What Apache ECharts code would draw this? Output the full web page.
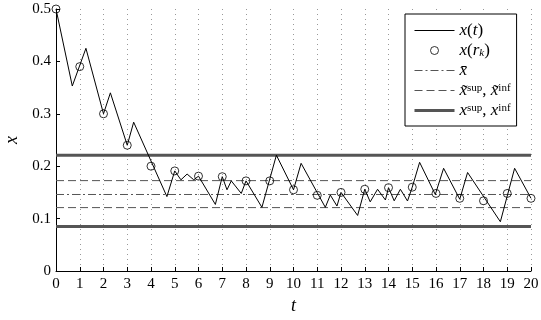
<!DOCTYPE html>
<html><head><meta charset="utf-8">
<script src="https://cdn.jsdelivr.net/npm/echarts@6/dist/echarts.min.js"></script>
<style>html,body{margin:0;padding:0;background:#fff}#c{width:541px;height:320px}</style>
</head><body><div id="c"></div>
<script>
// trajectory x(t) vertices
const tLine = [0, 0.686, 1.26, 2, 2.29, 3, 3.27, 4.67, 5, 5.26, 5.52, 5.8, 6, 6.71, 7, 7.2, 7.38, 7.8, 8, 8.67, 9.28, 10, 10.32, 11.34, 11.55, 11.83, 12, 12.7, 13, 13.23, 13.54, 13.87, 14, 14.24, 14.5, 14.8, 15, 15.31, 15.97, 16.32, 17, 17.33, 18.71, 19.31, 20];
const xLine = [0.5, 0.353, 0.425, 0.3, 0.34, 0.24, 0.284, 0.142, 0.191, 0.174, 0.185, 0.174, 0.181, 0.127, 0.180, 0.155, 0.172, 0.148, 0.172, 0.1215, 0.221, 0.155, 0.2055, 0.1215, 0.145, 0.124, 0.150, 0.106, 0.156, 0.132, 0.156, 0.1355, 0.159, 0.134, 0.156, 0.1336, 0.16, 0.2074, 0.146, 0.196, 0.137, 0.188, 0.094, 0.196, 0.1387];
// samples x(r_k)
const tSample = [0, 1, 2, 3, 4, 5, 6, 7, 8, 9, 10, 11, 12, 13, 14, 15, 16, 17, 18, 19, 20];
const xSample = [0.5, 0.39, 0.30, 0.24, 0.20, 0.191, 0.181, 0.180, 0.172, 0.172, 0.155, 0.1445, 0.150, 0.156, 0.159, 0.16, 0.148, 0.1387, 0.134, 0.148, 0.1387];
// reference levels
const xSupInf = [0.221, 0.085];
const xTildeSupInf = [0.1725, 0.121];
const xBar = [0.146];
const tSpan = [0, 20];

const serif = 'Liberation Serif';
const hline = (v) => tSpan.map(t => [t, v]);
const styles = {
  xsup:{color:'#555', width:3, type:'solid'},
  xtilde:{color:'#555', width:1, type:[8,4]},
  xbar:{color:'#555', width:1, type:[8,3,2,3]},
  xt:{color:'#000', width:1, type:'solid'}
};
const series = [];
xSupInf.forEach(v => series.push({name:'xsup', type:'line', data:hline(v), symbol:'none', lineStyle:styles.xsup, itemStyle:{color:'#555'}, z:1}));
xTildeSupInf.forEach(v => series.push({name:'xtilde', type:'line', data:hline(v), symbol:'none', lineStyle:styles.xtilde, itemStyle:{color:'#555'}, z:1}));
xBar.forEach(v => series.push({name:'xbar', type:'line', data:hline(v), symbol:'none', lineStyle:styles.xbar, itemStyle:{color:'#555'}, z:1}));
series.push({name:'xt', type:'line', data:tLine.map((t,i)=>[t,xLine[i]]), symbol:'none', lineStyle:styles.xt, itemStyle:{color:'#000'}, z:2});
series.push({name:'xr', type:'scatter', data:tSample.map((t,i)=>[t,xSample[i]]), symbol:'circle', symbolSize:8, itemStyle:{color:'rgba(0,0,0,0)', borderColor:'#000', borderWidth:1}, z:3});

const labels = {
  xt: '{i|x}{n|(}{i|t}{n|)}',
  xr: '{i|x}{n|(}{i|r}{sub|k}{n|)}',
  xbar: '{i|x\u0304}',
  xtilde: '{i|x\u0303}{sup|sup}{n|, }{i|x\u0303}{sup|inf}',
  xsup: '{i|x}{sup|sup}{n|, }{i|x}{sup|inf}'
};
const hideSym = {opacity:0};

const chart = echarts.init(document.getElementById('c'), null, {renderer:'canvas'});
chart.setOption({
  animation:false,
  backgroundColor:'#fff',
  grid:{left:56, right:10, top:9, bottom:49, containLabel:false, outerBoundsMode:'none'},
  xAxis:{type:'value', min:0, max:20, interval:1,
    name:'t', nameLocation:'middle', nameGap:26,
    nameTextStyle:{fontFamily:serif, fontStyle:'italic', fontSize:18, color:'#000'},
    axisLine:{show:true, onZero:false, lineStyle:{color:'#000', width:1}},
    axisTick:{show:true, inside:true, length:4, lineStyle:{color:'#000'}},
    axisLabel:{fontFamily:serif, fontSize:15, color:'#000', margin:6},
    splitLine:{show:true, lineStyle:{color:'#999', width:1, type:[1,4]}}},
  yAxis:{type:'value', min:0, max:0.5, interval:0.1,
    name:'x', nameLocation:'middle', nameGap:34,
    nameTextStyle:{fontFamily:serif, fontStyle:'italic', fontSize:18, color:'#000'},
    axisLine:{show:true, onZero:false, lineStyle:{color:'#000', width:1}},
    axisTick:{show:true, inside:true, length:4, lineStyle:{color:'#000'}},
    axisLabel:{fontFamily:serif, fontSize:15, color:'#000', margin:5},
    splitLine:{show:false}},
  legend:{left:405, top:14, orient:'vertical', itemWidth:40, itemHeight:8, itemGap:3,
    padding:[8,6,7,8], borderColor:'#000', borderWidth:1, backgroundColor:'#fff',
    data:[{name:'xt', itemStyle:hideSym, lineStyle:styles.xt},
          {name:'xr', icon:'circle', itemStyle:{color:'rgba(0,0,0,0)', borderColor:'#000', borderWidth:1}},
          {name:'xbar', itemStyle:hideSym, lineStyle:styles.xbar},
          {name:'xtilde', itemStyle:hideSym, lineStyle:styles.xtilde},
          {name:'xsup', itemStyle:hideSym, lineStyle:styles.xsup}],
    formatter:(n)=>labels[n],
    textStyle:{fontFamily:serif, fontSize:17, color:'#000', lineHeight:16,
      rich:{
        i:{fontFamily:serif, fontStyle:'italic', fontSize:17, lineHeight:16, color:'#000'},
        n:{fontFamily:serif, fontSize:17, lineHeight:16, color:'#000'},
        sup:{fontFamily:serif, fontSize:11, lineHeight:16, color:'#000', verticalAlign:'top'},
        sub:{fontFamily:serif, fontStyle:'italic', fontSize:11, lineHeight:16, color:'#000', verticalAlign:'bottom'}
      }}},
  series
});
</script></body></html>
